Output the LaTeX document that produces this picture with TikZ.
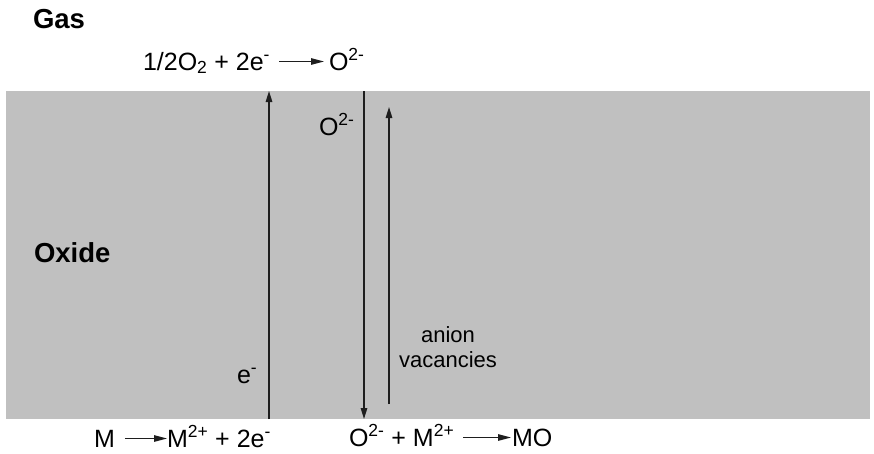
\documentclass[tikz,border=0pt]{standalone}
\usepackage{fontspec}
\setmainfont{Liberation Sans}
\usetikzlibrary{arrows.meta}
\definecolor{oxidegray}{RGB}{192,192,192}
\definecolor{linecol}{RGB}{30,30,30}
\tikzset{
  txt/.style={anchor=base west, inner sep=0pt, outer sep=0pt, font=\fontsize{25}{29}\selectfont},
  bigbold/.style={anchor=base west, inner sep=0pt, outer sep=0pt, font=\fontsize{27.5}{31}\selectfont\bfseries},
  small/.style={inner sep=0pt, outer sep=0pt, align=center, font=\fontsize{22}{26}\selectfont},
  flux/.style={draw=linecol, line width=1.4pt, -{Triangle[length=11pt,width=6.5pt]}},
  rxn/.style={draw=linecol, line width=1.2pt, -{Triangle[length=13pt,width=6.5pt]}}
}
\begin{document}
\begin{tikzpicture}[x=1pt,y=-1pt]
\useasboundingbox (0,0) rectangle (874,453);
% oxide layer
\fill[oxidegray] (6,91) rectangle (870,419);

% labels
\node[bigbold] (gas) at (33,28) {Gas};
\node[bigbold] (oxide) at (34,262) {Oxide};

% top reaction
\node[txt] (r1a) at (143,70) {1/2O\textsubscript{2} + 2e\textsuperscript{-}};
\node[txt] (r1b) at (329,70) {O\textsuperscript{2-}};
\draw[rxn] ([xshift=9pt,yshift=8.5pt]r1a.base east) -- ([xshift=-5pt,yshift=8.5pt]r1b.base west);

% bottom-left reaction
\node[txt] (r2a) at (94,447) {M};
\node[txt] (r2b) at (167,447) {M\textsuperscript{2+} + 2e\textsuperscript{-}};
\draw[rxn] ([xshift=10pt,yshift=8.5pt]r2a.base east) -- ([yshift=8.5pt]r2b.base west);

% bottom-right reaction
\node[txt] (r3a) at (349,446) {O\textsuperscript{2-} + M\textsuperscript{2+}};
\node[txt] (r3b) at (512,446) {MO};
\draw[rxn] ([xshift=9pt,yshift=8.5pt]r3a.base east) -- ([xshift=-1pt,yshift=8.5pt]r3b.base west);

% inner labels
\node[txt] (elab) at (237,383) {e\textsuperscript{-}};
\node[txt] (olab) at (319,135) {O\textsuperscript{2-}};
\node[small] (vac) at (448,347) {anion\\[-1pt]vacancies};

% flux arrows
\coordinate (eb) at (269,419);
\coordinate (et) at (269,91);
\coordinate (ot) at (364,91);
\coordinate (ob) at (364,419);
\coordinate (vb) at (389,404);
\coordinate (vt) at (389,107);
\draw[flux] (eb) -- (et);
\draw[flux] (ot) -- (ob);
\draw[flux] (vb) -- (vt);
\end{tikzpicture}
\end{document}
